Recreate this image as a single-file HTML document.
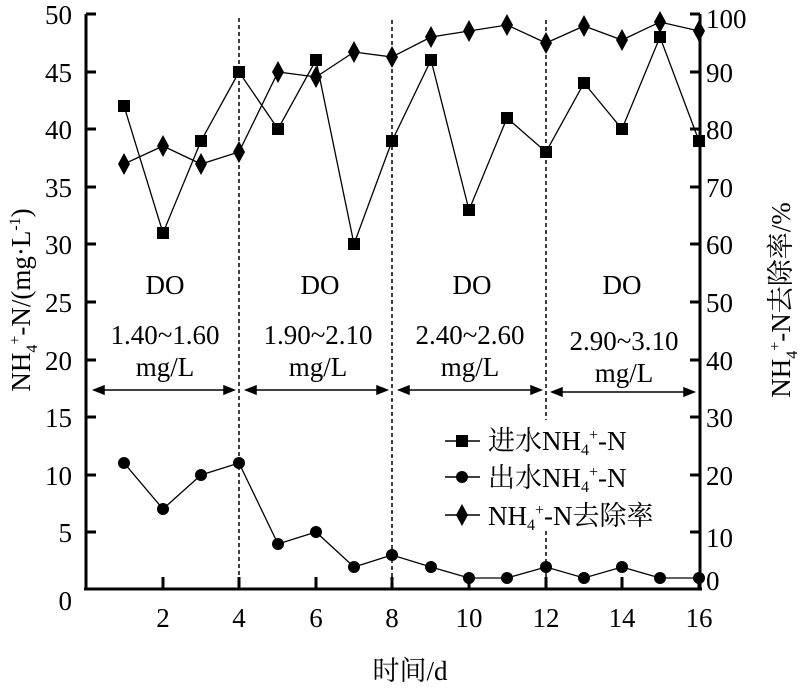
<!DOCTYPE html>
<html><head><meta charset="utf-8"><style>
html,body{margin:0;padding:0;background:#fff;}
svg text{font-family:"Liberation Serif","Noto Serif CJK SC",serif;fill:#000;}
</style></head><body>
<svg width="809" height="693" viewBox="0 0 809 693" xmlns="http://www.w3.org/2000/svg">
<g stroke="#000" stroke-width="3" fill="none">
<line x1="86" y1="14" x2="86" y2="590"/>
<line x1="700" y1="14" x2="700" y2="590"/>
<line x1="84" y1="589" x2="702" y2="589"/>
</g>
<g stroke="#000" stroke-width="3">
<line x1="86" y1="14" x2="96" y2="14"/><line x1="86" y1="72" x2="96" y2="72"/><line x1="86" y1="129" x2="96" y2="129"/><line x1="86" y1="187" x2="96" y2="187"/><line x1="86" y1="244" x2="96" y2="244"/><line x1="86" y1="302" x2="96" y2="302"/><line x1="86" y1="360" x2="96" y2="360"/><line x1="86" y1="417" x2="96" y2="417"/><line x1="86" y1="475" x2="96" y2="475"/><line x1="86" y1="532" x2="96" y2="532"/>
<line x1="690" y1="14" x2="700" y2="14"/><line x1="690" y1="72" x2="700" y2="72"/><line x1="690" y1="129" x2="700" y2="129"/><line x1="690" y1="187" x2="700" y2="187"/><line x1="690" y1="244" x2="700" y2="244"/><line x1="690" y1="302" x2="700" y2="302"/><line x1="690" y1="360" x2="700" y2="360"/><line x1="690" y1="417" x2="700" y2="417"/><line x1="690" y1="475" x2="700" y2="475"/><line x1="690" y1="532" x2="700" y2="532"/>
<line x1="163" y1="577" x2="163" y2="589"/><line x1="239" y1="577" x2="239" y2="589"/><line x1="316" y1="577" x2="316" y2="589"/><line x1="392" y1="577" x2="392" y2="589"/><line x1="469" y1="577" x2="469" y2="589"/><line x1="546" y1="577" x2="546" y2="589"/><line x1="622" y1="577" x2="622" y2="589"/><line x1="699" y1="577" x2="699" y2="589"/>
</g>
<g stroke="#000" stroke-width="1.5" stroke-dasharray="4,3">
<line x1="239" y1="18" x2="239" y2="589"/><line x1="392" y1="20" x2="392" y2="589"/><line x1="546" y1="20" x2="546" y2="589"/>
</g>
<g font-size="27" text-anchor="end">
<text x="72" y="24">50</text><text x="72" y="82">45</text><text x="72" y="139">40</text><text x="72" y="197">35</text><text x="72" y="254">30</text><text x="72" y="312">25</text><text x="72" y="370">20</text><text x="72" y="427">15</text><text x="72" y="485">10</text><text x="72" y="542">5</text><text x="72" y="610">0</text>
</g>
<g font-size="27" text-anchor="start">
<text x="706" y="28">100</text><text x="706" y="82">90</text><text x="706" y="139">80</text><text x="706" y="197">70</text><text x="706" y="254">60</text><text x="706" y="312">50</text><text x="706" y="370">40</text><text x="706" y="427">30</text><text x="706" y="485">20</text><text x="706" y="547">10</text><text x="706" y="590">0</text>
</g>
<g font-size="27" text-anchor="middle">
<text x="163" y="627">2</text><text x="239" y="627">4</text><text x="316" y="627">6</text><text x="392" y="627">8</text><text x="469" y="627">10</text><text x="546" y="627">12</text><text x="622" y="627">14</text><text x="699" y="627">16</text>
<text x="410" y="680">时间/d</text>
</g>
<text font-size="27" text-anchor="middle" transform="translate(30,300) rotate(-90)">NH<tspan font-size="16" dy="7">4</tspan><tspan font-size="16" dy="-17">+</tspan><tspan dy="10">-N/(mg·L</tspan><tspan font-size="16" dy="-10">-1</tspan><tspan dy="10">)</tspan></text>
<text font-size="27" text-anchor="middle" transform="translate(790,300) rotate(-90)">NH<tspan font-size="16" dy="7">4</tspan><tspan font-size="16" dy="-17">+</tspan><tspan dy="10">-N去除率/%</tspan></text>
<g font-size="27" text-anchor="middle">
<text x="165" y="294">DO</text><text x="320" y="294">DO</text><text x="472" y="294">DO</text><text x="622" y="294">DO</text>
<text x="165" y="344">1.40~1.60</text><text x="165" y="376">mg/L</text>
<text x="318" y="344">1.90~2.10</text><text x="318" y="376">mg/L</text>
<text x="470" y="344">2.40~2.60</text><text x="470" y="376">mg/L</text>
<text x="624" y="350">2.90~3.10</text><text x="624" y="382">mg/L</text>
</g>
<g stroke="#000" stroke-width="1.5" fill="#000">
<line x1="94" y1="390" x2="234" y2="390"/><path d="M94 390l10-4v8zM234 390l-10-4v8z"/>
<line x1="246" y1="390" x2="387" y2="390"/><path d="M246 390l10-4v8zM387 390l-10-4v8z"/>
<line x1="399" y1="390" x2="541" y2="390"/><path d="M399 390l10-4v8zM541 390l-10-4v8z"/>
<line x1="552" y1="392" x2="694" y2="392"/><path d="M552 392l10-4v8zM694 392l-10-4v8z"/>
</g>
<g stroke="#000" stroke-width="1.3" fill="none">
<polyline points="124,106 163,233 201,141 239,72 278,129 316,60 354,244 392,141 431,60 469,210 507,118 546,152 584,83 622,129 660,37 699,141"/>
<polyline points="124,463 163,509 201,475 239,463 278,544 316,532 354,567 392,555 431,567 469,578 507,578 546,567 584,578 622,567 660,578 699,578"/>
<polyline points="124,164 163,146 201,164 239,152 278,72 316,77 354,52 392,57 431,37 469,31 507,25 546,43 584,26 622,40 660,22 699,31"/>
</g>
<g fill="#000">
<g transform="translate(0,0)">
<rect x="118" y="100" width="12" height="12"/><rect x="157" y="227" width="12" height="12"/><rect x="195" y="135" width="12" height="12"/><rect x="233" y="66" width="12" height="12"/><rect x="272" y="123" width="12" height="12"/><rect x="310" y="54" width="12" height="12"/><rect x="348" y="238" width="12" height="12"/><rect x="386" y="135" width="12" height="12"/><rect x="425" y="54" width="12" height="12"/><rect x="463" y="204" width="12" height="12"/><rect x="501" y="112" width="12" height="12"/><rect x="540" y="146" width="12" height="12"/><rect x="578" y="77" width="12" height="12"/><rect x="616" y="123" width="12" height="12"/><rect x="654" y="31" width="12" height="12"/><rect x="693" y="135" width="12" height="12"/>
</g>
<circle cx="124" cy="463" r="6"/><circle cx="163" cy="509" r="6"/><circle cx="201" cy="475" r="6"/><circle cx="239" cy="463" r="6"/><circle cx="278" cy="544" r="6"/><circle cx="316" cy="532" r="6"/><circle cx="354" cy="567" r="6"/><circle cx="392" cy="555" r="6"/><circle cx="431" cy="567" r="6"/><circle cx="469" cy="578" r="6"/><circle cx="507" cy="578" r="6"/><circle cx="546" cy="567" r="6"/><circle cx="584" cy="578" r="6"/><circle cx="622" cy="567" r="6"/><circle cx="660" cy="578" r="6"/><circle cx="699" cy="578" r="6"/>
<path d="M124 153l6 11-6 11-6-11zM163 135l6 11-6 11-6-11zM201 153l6 11-6 11-6-11zM239 141l6 11-6 11-6-11zM278 61l6 11-6 11-6-11zM316 66l6 11-6 11-6-11zM354 41l6 11-6 11-6-11zM392 46l6 11-6 11-6-11zM431 26l6 11-6 11-6-11zM469 20l6 11-6 11-6-11zM507 14l6 11-6 11-6-11zM546 32l6 11-6 11-6-11zM584 15l6 11-6 11-6-11zM622 29l6 11-6 11-6-11zM660 11l6 11-6 11-6-11zM699 20l6 11-6 11-6-11z"/>
</g>
<g>
<rect x="432" y="420" width="258" height="110" fill="#fff"/>
<g stroke="#000" stroke-width="1.5"><line x1="445" y1="441" x2="480" y2="441"/><line x1="445" y1="477" x2="480" y2="477"/><line x1="445" y1="515" x2="480" y2="515"/></g>
<rect x="456" y="435" width="12" height="12"/><circle cx="462" cy="477" r="6"/><path d="M462 504l6 11-6 11-6-11z"/>
<g font-size="27">
<text x="488" y="450">进水NH<tspan font-size="16" dy="5">4</tspan><tspan font-size="16" dy="-15">+</tspan><tspan dy="10">-N</tspan></text>
<text x="488" y="487">出水NH<tspan font-size="16" dy="5">4</tspan><tspan font-size="16" dy="-15">+</tspan><tspan dy="10">-N</tspan></text>
<text x="488" y="525">NH<tspan font-size="16" dy="5">4</tspan><tspan font-size="16" dy="-15">+</tspan><tspan dy="10">-N去除率</tspan></text>
</g>
</g>
</svg>
</body></html>
